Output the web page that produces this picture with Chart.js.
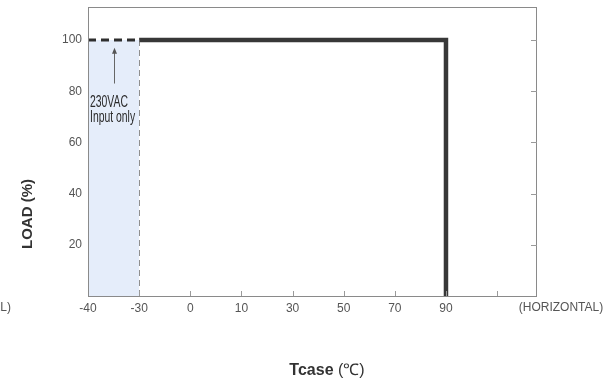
<!DOCTYPE html>
<html>
<head>
<meta charset="utf-8">
<script src="https://cdn.jsdelivr.net/npm/chart.js@4/dist/chart.umd.min.js"></script>
<style>
html,body{margin:0;padding:0;background:#fff;}
#wrap{width:608px;height:386px;position:relative;}
</style>
</head>
<body>
<div id="wrap"><canvas id="c" width="608" height="386"></canvas></div>
<script>
// ---- data ----
const xTickLabels = ['-40', '-30', '0', '10', '30', '50', '70', '90', ''];
const yTickValues = [20, 40, 60, 80, 100];
const dashedTemp = [-40, -30];
const dashedLoad = [100, 100];
const deratingTemp = [-30, 90, 90];
const deratingLoad = [100, 100, 0];
const limitTemp = [-30, -30];
const limitLoad = [100, 0];
const arrowTemp = [-35, -35];
const arrowLoad = [83, 97];
const noteLines = ['230VAC', 'Input only'];
const noteLoad = [75.5, 69.5];
const xTitleBold = 'Tcase';
const xTitleRest = '(\u2103)';
const yTitle = 'LOAD (%)';
const rightNote = '(HORIZONTAL)';
const leftNote = '(VERTICAL)';

// temperature -> category position (piecewise between labelled ticks)
const tickTemps = xTickLabels.filter(s => s !== '').map(Number);
function tempToPos(t) {
  for (let i = 0; i < tickTemps.length - 1; i++) {
    const a = tickTemps[i], b = tickTemps[i + 1];
    if (t >= a && t <= b) return i + (t - a) / (b - a);
  }
  return tickTemps.indexOf(t);
}
const pts = (ts, ls) => ts.map((t, i) => ({x: tempToPos(t), y: ls[i]}));

const FONT = '"Liberation Sans", Arial, Helvetica, sans-serif';

const decor = {
  id: 'decor',
  afterDatasetsDraw(chart) {
    const {ctx, chartArea: a, scales} = chart;
    const xs = scales.x, ys = scales.y;
    ctx.save();
    // box
    ctx.strokeStyle = '#8a8a8a';
    ctx.lineWidth = 1;
    ctx.strokeRect(a.left + 0.5, a.top + 0.5, a.right - a.left - 1, a.bottom - a.top);
    // inward ticks on bottom axis
    ctx.strokeStyle = '#9a9a9a';
    xTickLabels.forEach((l, i) => {
      if (i === 0) return;
      const px = Math.round(xs.getPixelForValue(i)) + 0.5;
      ctx.beginPath(); ctx.moveTo(px, a.bottom); ctx.lineTo(px, a.bottom - 5); ctx.stroke();
    });
    // inward ticks on right border
    yTickValues.forEach(v => {
      const py = Math.round(ys.getPixelForValue(v)) + 0.5;
      ctx.beginPath(); ctx.moveTo(a.right, py); ctx.lineTo(a.right - 6, py); ctx.stroke();
    });
    // arrow
    const ax = Math.round(xs.getPixelForValue(tempToPos(arrowTemp[0]))) + 0.5;
    const ay0 = ys.getPixelForValue(arrowLoad[0]);
    const ay1 = ys.getPixelForValue(arrowLoad[1]);
    ctx.strokeStyle = '#666';
    ctx.fillStyle = '#555';
    ctx.lineWidth = 1;
    ctx.beginPath(); ctx.moveTo(ax, ay0); ctx.lineTo(ax, ay1 + 3); ctx.stroke();
    ctx.beginPath(); ctx.moveTo(ax, ay1); ctx.lineTo(ax - 2.5, ay1 + 6); ctx.lineTo(ax + 2.5, ay1 + 6); ctx.closePath(); ctx.fill();
    // note text (narrow)
    ctx.fillStyle = '#2a2a2a';
    ctx.textBaseline = 'middle';
    ctx.textAlign = 'left';
    ctx.font = '13px ' + FONT;
    const nx = xs.getPixelForValue(0) + 2;
    noteLines.forEach((s, i) => {
      const ny = ys.getPixelForValue(noteLoad[i]);
      ctx.save();
      ctx.translate(nx, ny);
      ctx.scale(0.8, 1.2);
      ctx.fillText(s, 0, 0);
      ctx.restore();
    });
    // right / left notes
    ctx.fillStyle = '#555';
    ctx.font = '12px ' + FONT;
    ctx.textAlign = 'center';
    const labY = a.bottom + 12;
    ctx.fillText(rightNote, 561, labY);
    ctx.textAlign = 'right';
    ctx.fillText(leftNote, 11, labY);
    // y title
    ctx.save();
    ctx.fillStyle = '#333';
    ctx.font = 'bold 15px ' + FONT;
    ctx.translate(28, 214);
    ctx.rotate(-Math.PI / 2);
    ctx.textAlign = 'center';
    ctx.fillText(yTitle, 0, 0);
    ctx.restore();
    // x title
    ctx.fillStyle = '#333';
    ctx.textAlign = 'left';
    ctx.font = 'bold 16px ' + FONT;
    const w1 = ctx.measureText(xTitleBold + ' ').width;
    ctx.font = '16px ' + FONT;
    const w2 = ctx.measureText(xTitleRest).width;
    const sx = 327 - (w1 + w2) / 2;
    ctx.font = 'bold 16px ' + FONT;
    ctx.fillText(xTitleBold + ' ', sx, 371);
    ctx.font = '16px ' + FONT;
    ctx.fillText(xTitleRest, sx + w1, 371);
    ctx.restore();
  }
};

new Chart(document.getElementById('c'), {
  type: 'line',
  data: {
    datasets: [
      {
        data: pts(dashedTemp, dashedLoad),
        borderColor: '#2e2e2e', borderWidth: 3, borderDash: [8, 5],
        fill: 'origin', backgroundColor: '#e5edfa',
        pointRadius: 0, tension: 0
      },
      {
        data: pts(limitTemp, limitLoad),
        borderColor: '#666', borderWidth: 1.2, borderDash: [6, 4],
        fill: false, pointRadius: 0, tension: 0
      },
      {
        data: pts(deratingTemp, deratingLoad),
        borderColor: '#383838', borderWidth: 4.5, borderJoinStyle: 'miter', borderCapStyle: 'butt',
        fill: false, pointRadius: 0, tension: 0
      }
    ]
  },
  options: {
    responsive: false,
    animation: false,
    events: [],
    layout: {padding: {left: 0, right: 71, top: 7, bottom: 0}},
    plugins: {legend: {display: false}, tooltip: {enabled: false}, title: {display: false}},
    scales: {
      x: {
        type: 'linear', min: 0, max: 8.78,
        afterBuildTicks: s => { s.ticks = xTickLabels.map((l, i) => ({value: i})); },
        afterFit: s => { s.height = 90; s.paddingLeft = 0; s.paddingRight = 0; },
        ticks: {
          callback: (v) => xTickLabels[v] !== undefined ? xTickLabels[v] : '',
          color: '#555', font: {family: FONT, size: 12}, padding: 5, maxRotation: 0, autoSkip: false
        },
        grid: {display: false, drawTicks: false},
        border: {display: false}
      },
      y: {
        type: 'linear', min: 0, max: 112.9,
        afterBuildTicks: s => { s.ticks = yTickValues.map(v => ({value: v})); },
        afterFit: s => { s.width = 88; s.paddingTop = 0; s.paddingBottom = 0; },
        ticks: {color: '#555', font: {family: FONT, size: 12}, padding: 6},
        grid: {display: false, drawTicks: false},
        border: {display: false}
      }
    }
  },
  plugins: [decor]
});
</script>
</body>
</html>
